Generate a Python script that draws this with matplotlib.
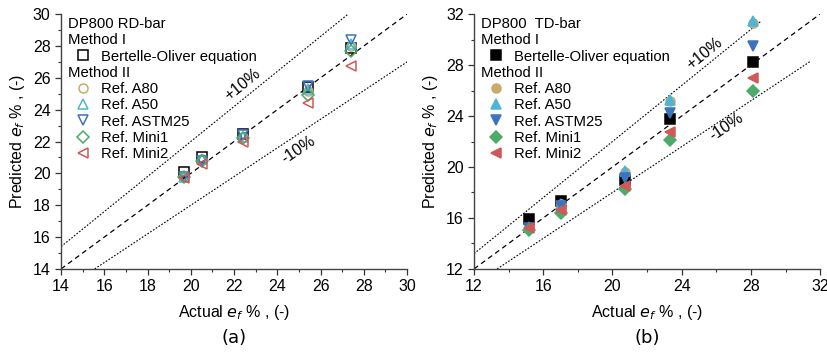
import matplotlib.pyplot as plt
import numpy as np
from matplotlib.lines import Line2D

plt.rcParams['font.family'] = ['Liberation Sans', 'DejaVu Sans']

# panel (a): DP800 RD-bar
rd_actual = [19.7, 20.5, 22.4, 25.4, 27.4]
rd_bertelle = [20.1, 21.0, 22.5, 25.4, 27.9]
rd_a80 = [19.8, 20.9, 22.3, 25.2, 28.0]
rd_a50 = [19.8, 20.9, 22.3, 25.3, 28.1]
rd_astm25 = [19.8, 20.8, 22.4, 25.5, 28.4]
rd_mini1 = [19.75, 20.8, 22.2, 24.95, 27.7]
rd_mini2 = [19.7, 20.6, 22.0, 24.4, 26.75]

# panel (b): DP800 TD-bar
td_actual = [15.2, 17.0, 20.7, 23.3, 28.1]
td_bertelle = [15.9, 17.3, 19.0, 23.75, 28.25]
td_a80 = [15.3, 17.1, 19.6, 25.2, 31.3]
td_a50 = [15.3, 17.1, 19.65, 25.25, 31.45]
td_astm25 = [15.25, 16.9, 19.1, 24.25, 29.5]
td_mini1 = [15.05, 16.4, 18.25, 22.1, 26.0]
td_mini2 = [15.2, 16.6, 18.5, 22.75, 27.0]

series_names = ['Ref. A80', 'Ref. A50', 'Ref. ASTM25', 'Ref. Mini1', 'Ref. Mini2']
series_markers = ['o', '^', 'v', 'D', '<']
series_sizes = [6.5, 7, 7, 6, 7]
series_colors = ['#C9AA6E', '#4DB6D6', '#3D72BE', '#4CAA6A', '#D05858']


def draw_panel(ax, actual, bertelle, refs, filled, lim, major, minor,
               title, plus_pos, minus_pos, plus_end, minus_end, tag):
    lo, hi = lim
    # reference lines y = x, +10 %, -10 %
    x_eq = np.array([lo, hi])
    ax.plot(x_eq, x_eq, color='black', lw=0.9, ls=(0, (4, 3)), zorder=1)
    x_p = np.array([lo, plus_end])
    ax.plot(x_p, 1.1 * x_p, color='black', lw=0.8, ls=(0, (1.5, 1.5)), zorder=1)
    x_m = np.array([lo / 0.9, minus_end])
    ax.plot(x_m, 0.9 * x_m, color='black', lw=0.8, ls=(0, (1.5, 1.5)), zorder=1)

    handles = []
    labels = []
    blank = Line2D([], [], ls='none')
    handles += [blank, blank]
    labels += [title, 'Method I']
    h = ax.plot(actual, bertelle, ls='none', marker='s', ms=6.5,
                mec='black', mfc='black' if filled else 'none', mew=1.1,
                zorder=3)[0]
    handles.append(h)
    labels.append('Bertelle-Oliver equation')
    handles.append(blank)
    labels.append('Method II')
    for vals, name, mk, ms, col in zip(refs, series_names, series_markers,
                                        series_sizes, series_colors):
        h = ax.plot(actual, vals, ls='none', marker=mk, ms=ms, mec=col,
                    mfc=col if filled else 'none', mew=1.1, zorder=3)[0]
        handles.append(h)
        labels.append(name)

    leg = ax.legend(handles, labels, loc='upper left',
                    bbox_to_anchor=(0.012, 1.0), frameon=False,
                    fontsize=10.75, handlelength=2.0, handletextpad=0.2,
                    labelspacing=0.15, borderaxespad=0.1, borderpad=0.1)
    # header rows: no handle space, text flush left
    headers = [0, 1, 3]
    col_box = leg._legend_handle_box.get_children()[0]
    for i, row in enumerate(col_box.get_children()):
        if i in headers:
            row.get_children()[0].width = 0
            row.sep = 0

    ax.set_xlim(lo, hi)
    ax.set_ylim(lo, hi)
    ax.set_xticks(np.arange(lo, hi + 0.1, major))
    ax.set_yticks(np.arange(lo, hi + 0.1, major))
    ax.set_xticks(np.arange(lo, hi + 0.1, minor), minor=True)
    ax.set_yticks(np.arange(lo, hi + 0.1, minor), minor=True)
    ax.tick_params(which='major', direction='out', length=4, width=0.9,
                   labelsize=11.5, colors='#333333', labelcolor='black')
    ax.tick_params(which='minor', direction='out', length=2.5, width=0.8,
                   colors='#333333')
    for s in ['top', 'right']:
        ax.spines[s].set_visible(False)
    for s in ['left', 'bottom']:
        ax.spines[s].set_color('#444444')
        ax.spines[s].set_linewidth(1.0)

    ax.set_xlabel(r'Actual $e_f$ % , (-)', fontsize=11.5, labelpad=6)
    ax.set_ylabel(r'Predicted $e_f$ % , (-)', fontsize=11.5, labelpad=4)
    ax.text(plus_pos[0], plus_pos[1], '+10%', rotation=39, fontsize=11.5,
            ha='center', va='center', rotation_mode='anchor')
    ax.text(minus_pos[0], minus_pos[1], '-10%', rotation=34, fontsize=11.5,
            ha='center', va='center', rotation_mode='anchor')
    ax.text(0.5, -0.27, tag, transform=ax.transAxes, fontsize=13,
            ha='center', va='center', family='DejaVu Sans')


fig = plt.figure(figsize=(8.28, 3.52), dpi=100)
ax1 = fig.add_axes([0.0737, 0.236, 0.418, 0.724])
ax2 = fig.add_axes([0.5725, 0.236, 0.418, 0.724])

draw_panel(ax1, rd_actual, rd_bertelle,
           [rd_a80, rd_a50, rd_astm25, rd_mini1, rd_mini2], False,
           (14, 30), 2, 1, 'DP800 RD-bar', (22.4, 25.55), (24.95, 21.45),
           30 / 1.1, 30, '(a)')
draw_panel(ax2, td_actual, td_bertelle,
           [td_a80, td_a50, td_astm25, td_mini1, td_mini2], True,
           (12, 32), 4, 2, 'DP800  TD-bar', (25.3, 28.9), (26.55, 23.15),
           28.6, 31.4, '(b)')

fig.savefig('out.png', dpi=100)
